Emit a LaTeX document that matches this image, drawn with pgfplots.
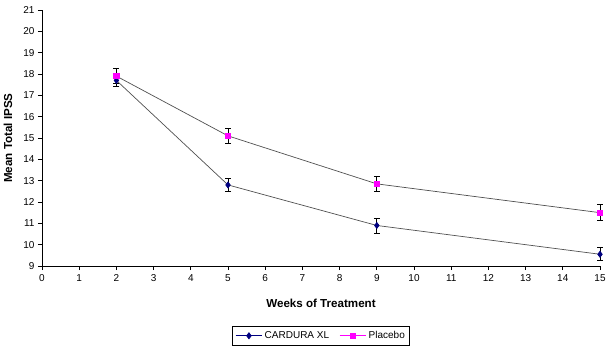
\documentclass[border=0pt]{standalone}
\usepackage{pgfplots}
\pgfplotsset{compat=1.18}
\usepackage{fontspec}
\setmainfont{Liberation Sans}
\definecolor{navyc}{RGB}{0,0,128}
\definecolor{magc}{RGB}{255,0,255}
\definecolor{linec}{RGB}{80,80,80}
\begin{document}
\begin{tikzpicture}
\begin{axis}[
  name=ax,
  scale only axis,
  width=558pt, height=256pt,
  at={(42pt,87pt)}, anchor=south west,
  xmin=0, xmax=15, ymin=9, ymax=21,
  xtick={0,1,...,15}, ytick={9,10,...,21},
  axis x line*=bottom, axis y line*=left,
  axis line style={black, line width=0.8pt, -},
  tick style={black, line width=0.8pt},
  tick align=outside, major tick length=4pt,
  /pgf/number format/assume math mode=true,
  tick label style={font=\fontsize{10}{12}\selectfont},
  xticklabel style={yshift=-1pt},
  xlabel={\textbf{Weeks of Treatment}},
  ylabel={\textbf{Mean Total IPSS}},
  label style={font=\fontsize{11.6}{13}\selectfont},
  xlabel style={at={(0.5,0)}, anchor=center, yshift=-37pt},
  ylabel style={at={(0,0.5)}, anchor=center, rotate=0, yshift=34pt},
  legend style={at={(0.5,0)}, anchor=north, yshift=-60pt, draw=black, line width=0.8pt,
    font=\fontsize{10}{12}\selectfont, legend columns=2,
    /tikz/every even column/.append style={column sep=8pt}, inner sep=3pt},
  legend cell align=left,
  legend image code/.code={\draw[mark repeat=2,mark phase=2,#1] plot coordinates {(0cm,0cm) (0.47cm,0cm) (0.94cm,0cm)};},
  clip=false,
]
\addlegendimage{navyc, line width=0.8pt, mark=diamond*, mark size=3pt, mark options={fill=navyc}}
\addlegendentry{CARDURA XL}
\addlegendimage{magc, line width=0.8pt, mark=square*, mark size=2.4pt, mark options={fill=magc}}
\addlegendentry{Placebo}
\addplot[forget plot, linec, line width=0.7pt, mark=diamond*, mark size=3pt,
  mark options={fill=navyc, draw=navyc},
  error bars/.cd, y dir=both, y explicit, error mark=-, error mark options={black, line width=0.8pt, mark size=3pt, rotate=90},
  error bar style={black, line width=0.8pt}]
  coordinates {(2,17.7) +- (0,0.3) (5,12.8) +- (0,0.3) (9,10.9) +- (0,0.35) (15,9.55) +- (0,0.3)};
\addplot[forget plot, linec, line width=0.7pt, mark=square*, mark size=2.6pt,
  mark options={fill=magc, draw=magc},
  error bars/.cd, y dir=both, y explicit, error mark=-, error mark options={black, line width=0.8pt, mark size=3pt, rotate=90},
  error bar style={black, line width=0.8pt}]
  coordinates {(2,17.9) +- (0,0.35) (5,15.1) +- (0,0.35) (9,12.85) +- (0,0.35) (15,11.5) +- (0,0.38)};
\end{axis}
\path (0,0) rectangle (612pt,353pt);
\end{tikzpicture}
\end{document}
